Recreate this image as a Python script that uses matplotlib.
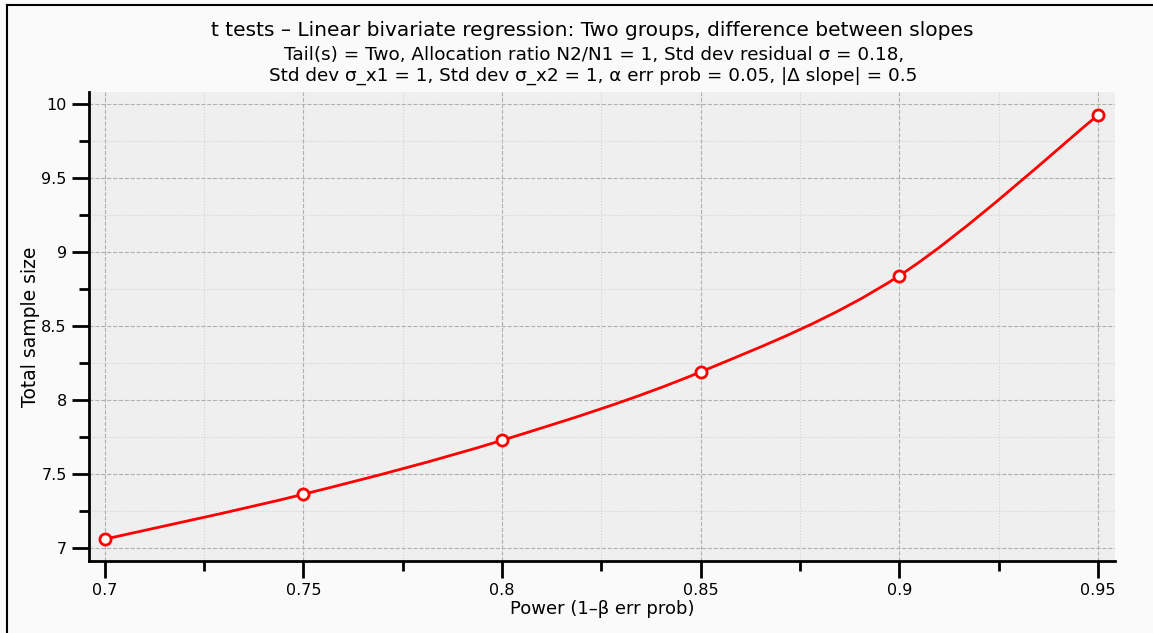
import matplotlib.pyplot as plt
import numpy as np
from matplotlib.path import Path
from matplotlib.patches import PathPatch
from matplotlib.lines import Line2D

power = [0.70, 0.75, 0.80, 0.85, 0.90, 0.95]
total_n = [7.057, 7.361, 7.726, 8.189, 8.840, 9.926]

x_ticks = [0.7, 0.75, 0.8, 0.85, 0.9, 0.95]
x_labels = ["0.7", "0.75", "0.8", "0.85", "0.9", "0.95"]
y_ticks = [7, 7.5, 8, 8.5, 9, 9.5, 10]
y_labels = ["7", "7.5", "8", "8.5", "9", "9.5", "10"]

title = "t tests \u2013 Linear bivariate regression: Two groups, difference between slopes"
sub1 = "Tail(s) = Two, Allocation ratio N2/N1 = 1, Std dev residual \u03c3 = 0.18,"
sub2 = "Std dev \u03c3_x1 = 1, Std dev \u03c3_x2 = 1, \u03b1 err prob = 0.05, |\u0394 slope| = 0.5"

plt.rcParams['font.family'] = ['DejaVu Sans']

fig = plt.figure(figsize=(11.53, 6.33), dpi=100)
fig.patch.set_facecolor('#fafafa')
W, H = 1153, 633
ax = fig.add_axes([89/W, 1-561/H, (1115-89)/W, (561-92)/H])
ax.set_facecolor('#efefef')

# outer frame: left and top edges only
fig.add_artist(Line2D([7/W, 7/W], [0, 1-5/H], transform=fig.transFigure, color='black', linewidth=1.5))
fig.add_artist(Line2D([7/W, 1], [1-5/H, 1-5/H], transform=fig.transFigure, color='black', linewidth=1.5))

# smooth line through points (Catmull-Rom as bezier segments)
px = np.array(power); py = np.array(total_n)
verts = [(px[0], py[0])]
codes = [Path.MOVETO]
n = len(px)
for i in range(n-1):
    p0 = (px[max(i-1, 0)], py[max(i-1, 0)])
    p1 = (px[i], py[i]); p2 = (px[i+1], py[i+1])
    p3 = (px[min(i+2, n-1)], py[min(i+2, n-1)])
    c1 = (p1[0] + (p2[0]-p0[0])/6, p1[1] + (p2[1]-p0[1])/6)
    c2 = (p2[0] - (p3[0]-p1[0])/6, p2[1] - (p3[1]-p1[1])/6)
    verts += [c1, c2, p2]
    codes += [Path.CURVE4]*3
ax.add_patch(PathPatch(Path(verts, codes), fill=False, edgecolor='#ff0000', linewidth=2, zorder=3))
ax.plot(power, total_n, linestyle='none', marker='o', markersize=8, markerfacecolor='white',
        markeredgecolor='#ff0000', markeredgewidth=2, zorder=4)

ax.set_xlim(0.696, 0.9543)
ax.set_ylim(6.909, 10.083)
ax.set_xticks(x_ticks)
ax.set_xticklabels(x_labels)
ax.set_yticks(y_ticks)
ax.set_yticklabels(y_labels)
ax.set_xticks([0.725, 0.775, 0.825, 0.875, 0.925], minor=True)
ax.set_yticks([7.25, 7.75, 8.25, 8.75, 9.25, 9.75], minor=True)

ax.grid(which='major', linestyle='--', color='#b0b0b0', linewidth=0.8)
ax.grid(which='minor', linestyle=':', color='#d0d0d0', linewidth=0.8)
ax.set_axisbelow(True)

for s in ['top', 'right']:
    ax.spines[s].set_visible(False)
for s in ['left', 'bottom']:
    ax.spines[s].set_linewidth(2)
ax.tick_params(which='major', length=12, width=2, labelsize=11.5, pad=4)
ax.tick_params(which='minor', length=7, width=2)

ax.set_xlabel("Power (1\u2013\u03b2 err prob)", fontsize=13, labelpad=1)
ax.set_ylabel("Total sample size", fontsize=13.5, labelpad=1)

fig.text(592/W, 1-30/H, title, ha='center', va='center', fontsize=14.5)
fig.text(594/W, 1-55/H, sub1, ha='center', va='center', fontsize=13.2)
fig.text(593/W, 1-76/H, sub2, ha='center', va='center', fontsize=13.2)

plt.savefig("out.png", facecolor=fig.get_facecolor())
plt.close(fig)
